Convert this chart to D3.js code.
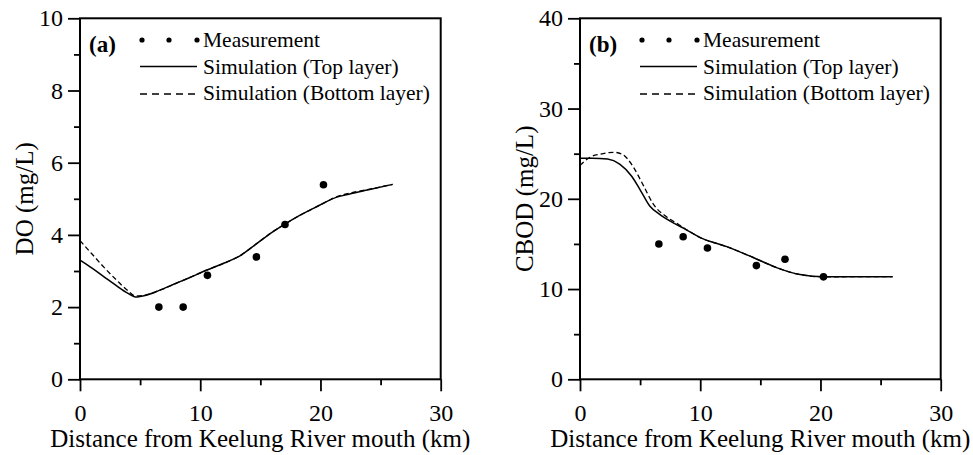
<!DOCTYPE html>
<html>
<head>
<meta charset="utf-8">
<script src="https://cdn.jsdelivr.net/npm/d3@7/dist/d3.min.js"></script>
<style>
  html, body { margin: 0; padding: 0; background: #fff; }
  svg { display: block; font-family: "Liberation Serif", "Times New Roman", serif; }
</style>
</head>
<body>
<svg id="chart" width="973" height="455"></svg>
<script>
// Measurement stations along the river (km from mouth)
const stationKm = [6.56, 8.58, 10.6, 14.67, 17.05, 20.25];
const doMeasured = [2.0, 2.0, 2.88, 3.39, 4.29, 5.39];
const cbodMeasured = [15.0, 15.8, 14.55, 12.6, 13.3, 11.35];

// Simulated DO profiles
const doTopKm = [0, 1, 2, 3, 4, 4.6, 5.5, 6.5, 8, 9, 10.5, 12, 13.3, 14.7, 16, 17, 18.5, 19.5, 20.5, 21.3, 22.5, 24, 26];
const doTop = [3.30, 3.08, 2.84, 2.60, 2.38, 2.28, 2.33, 2.45, 2.66, 2.80, 3.02, 3.22, 3.42, 3.76, 4.08, 4.29, 4.58, 4.75, 4.92, 5.04, 5.14, 5.25, 5.40];
const doBottomKm = [0, 1, 2, 3, 4, 4.6, 5.5, 6.5, 8, 9, 10.5, 12, 13.3, 14.7, 16, 17, 18.5, 19.5, 20.5, 21.3, 22.5, 24, 26];
const doBottom = [3.84, 3.47, 3.10, 2.76, 2.45, 2.31, 2.34, 2.45, 2.66, 2.80, 3.02, 3.22, 3.42, 3.76, 4.08, 4.29, 4.58, 4.75, 4.92, 5.05, 5.16, 5.26, 5.40];

// Simulated CBOD profiles
const cbodTopKm = [0, 1, 2.3, 3.3, 4.3, 5, 5.8, 6.6, 7.8, 8.6, 10, 12.2, 14.4, 16.4, 18.3, 20.3, 23, 26];
const cbodTop = [24.5, 24.5, 24.4, 23.85, 22.5, 21.0, 19.2, 18.3, 17.3, 16.75, 15.7, 14.7, 13.5, 12.35, 11.6, 11.35, 11.37, 11.37];
const cbodBottomKm = [0, 0.4, 0.9, 1.7, 2.8, 3.5, 4.4, 5.3, 6.1, 7.2, 8.2, 8.6, 10, 12.2, 14.4, 16.4, 18.3, 20.3, 23, 26];
const cbodBottom = [23.7, 24.2, 24.65, 24.95, 25.15, 24.95, 23.6, 21.4, 19.4, 18.0, 17.15, 16.8, 15.7, 14.7, 13.5, 12.35, 11.6, 11.35, 11.37, 11.37];

// Axis ticks
const xMajorTicks = [0, 10, 20, 30];
const xMinorTicks = [5, 15, 25];
const doMajorTicks = [0, 2, 4, 6, 8, 10];
const doMinorTicks = [1, 3, 5, 7, 9];
const cbodMajorTicks = [0, 10, 20, 30, 40];
const cbodMinorTicks = [5, 15, 25, 35];

const legendLabels = ["Measurement", "Simulation (Top layer)", "Simulation (Bottom layer)"];
const xTitle = "Distance from Keelung River mouth (km)";

const svg = d3.select("#chart");

function drawPanel(p) {
  const top = 18.3, bottom = 379.3;
  const x = d3.scaleLinear().domain([0, 30]).range([p.left, p.left + 360.7]);
  const y = d3.scaleLinear().domain([0, p.yMax]).range([bottom, top]);
  const g = svg.append("g");

  // minor ticks
  g.append("g").attr("transform", `translate(0,${bottom})`)
    .call(d3.axisBottom(x).tickValues(xMinorTicks).tickSize(6).tickSizeOuter(0).tickFormat(""));
  g.append("g").attr("transform", `translate(${p.left},0)`)
    .call(d3.axisLeft(y).tickValues(p.minor).tickSize(6).tickSizeOuter(0).tickFormat(""));

  // major ticks with labels
  const xa = g.append("g").attr("transform", `translate(0,${bottom})`)
    .call(d3.axisBottom(x).tickValues(xMajorTicks).tickSize(12).tickSizeOuter(0).tickPadding(13).tickFormat(d3.format("d")));
  const ya = g.append("g").attr("transform", `translate(${p.left},0)`)
    .call(d3.axisLeft(y).tickValues(p.major).tickSize(12).tickSizeOuter(0).tickPadding(5).tickFormat(d3.format("d")));

  g.selectAll(".domain").remove();
  g.selectAll(".tick line").attr("stroke", "#000").attr("stroke-width", 1.8);
  g.selectAll(".tick text").attr("fill", "#000")
    .style("font-family", "Liberation Serif").style("font-size", "24px");

  // frame
  g.append("rect")
    .attr("x", x(0)).attr("y", y(p.yMax))
    .attr("width", x(30) - x(0)).attr("height", y(0) - y(p.yMax))
    .attr("fill", "none").attr("stroke", "#000").attr("stroke-width", 2);

  // axis titles
  g.append("text")
    .attr("x", (x(0) + x(30)) / 2).attr("y", 447)
    .attr("text-anchor", "middle").style("font-size", "25px")
    .text(xTitle);
  g.append("text")
    .attr("transform", `translate(${p.left - 47},${(top + bottom) / 2}) rotate(-90)`)
    .attr("text-anchor", "middle").style("font-size", "25px")
    .text(p.yTitle);

  // simulated profiles
  const line = d3.line().x(d => x(d[0])).y(d => y(d[1])).curve(d3.curveMonotoneX);
  g.append("path")
    .datum(p.topKm.map((k, i) => [k, p.top[i]]))
    .attr("d", line).attr("fill", "none").attr("stroke", "#000").attr("stroke-width", 1.5);
  g.append("path")
    .datum(p.bottomKm.map((k, i) => [k, p.bottom[i]]))
    .attr("d", line).attr("fill", "none").attr("stroke", "#000").attr("stroke-width", 1.3)
    .attr("stroke-dasharray", "5,3");

  // measurements
  g.selectAll("circle.meas")
    .data(stationKm.map((k, i) => [k, p.measured[i]]))
    .join("circle").attr("class", "meas")
    .attr("cx", d => x(d[0])).attr("cy", d => y(d[1])).attr("r", 3.8).attr("fill", "#000");

  // legend
  const lx = p.left;
  g.append("text").attr("x", lx + 9).attr("y", 52)
    .style("font-size", "23px").style("font-weight", "bold").text(p.tag);
  g.selectAll("circle.leg").data([62, 89, 117]).join("circle").attr("class", "leg")
    .attr("cx", d => lx + d).attr("cy", 40).attr("r", 2.6).attr("fill", "#000");
  g.append("line").attr("x1", lx + 60).attr("x2", lx + 117).attr("y1", 66.5).attr("y2", 66.5)
    .attr("stroke", "#000").attr("stroke-width", 1.3);
  g.append("line").attr("x1", lx + 60).attr("x2", lx + 117).attr("y1", 94).attr("y2", 94)
    .attr("stroke", "#000").attr("stroke-width", 1.3).attr("stroke-dasharray", "7,5");
  g.selectAll("text.leg").data(legendLabels).join("text").attr("class", "leg")
    .attr("x", lx + 123).attr("y", (d, i) => 47 + i * 26.7)
    .style("font-size", "21.5px").text(d => d);
}

drawPanel({
  left: 80, yMax: 10, major: doMajorTicks, minor: doMinorTicks, yTitle: "DO (mg/L)", tag: "(a)",
  topKm: doTopKm, top: doTop, bottomKm: doBottomKm, bottom: doBottom, measured: doMeasured
});
drawPanel({
  left: 580, yMax: 40, major: cbodMajorTicks, minor: cbodMinorTicks, yTitle: "CBOD (mg/L)", tag: "(b)",
  topKm: cbodTopKm, top: cbodTop, bottomKm: cbodBottomKm, bottom: cbodBottom, measured: cbodMeasured
});
</script>
</body>
</html>
